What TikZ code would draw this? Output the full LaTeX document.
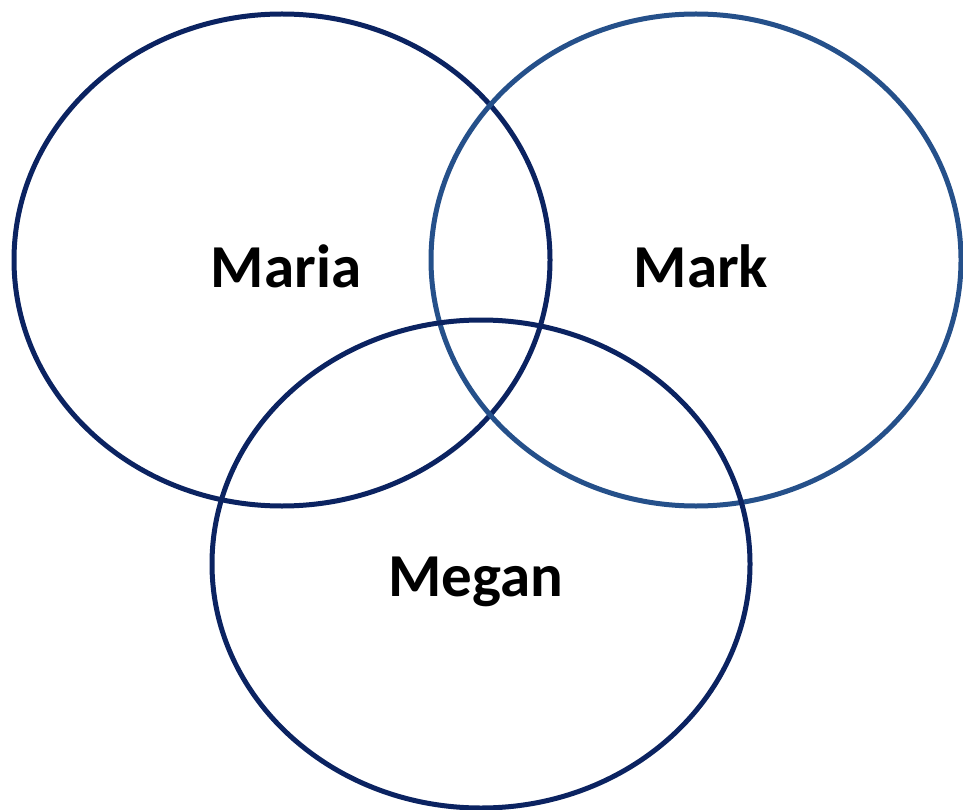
\documentclass[tikz,border=0pt]{standalone}
\usepackage{fontspec}
\setmainfont{Carlito}
\usepackage{xcolor}
\definecolor{navy}{HTML}{0B2361}
\definecolor{steel}{HTML}{25508A}
\tikzset{
ring/.style={line width=5pt},
who/.style={font=\fontsize{61}{63}\selectfont\bfseries}
}

\begin{document}
\begin{tikzpicture}[x=1pt,y=-1pt]
\useasboundingbox (0,0) rectangle (963,810);

\draw[ring,navy] (282,260) ellipse (268 and 246);
\draw[ring,steel] (696,260) ellipse (265 and 246);
\draw[ring,navy] (481,564) ellipse (269 and 244);

\node[who] (maria) at (286,266) {Maria};
\node[who] (mark) at (701,266) {Mark};
\node[who] (megan) at (476,582) {Megan};
\end{tikzpicture}
\end{document}
